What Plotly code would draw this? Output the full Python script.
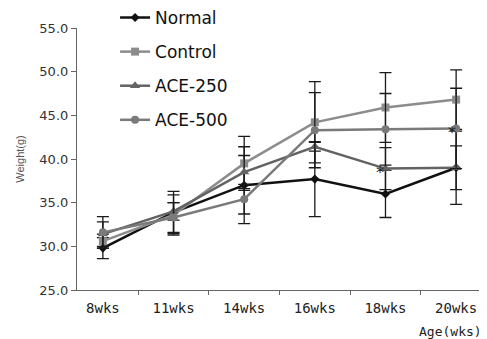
import plotly.graph_objects as go

weeks = ["8wks", "11wks", "14wks", "16wks", "18wks", "20wks"]

normal = [29.8, 33.9, 37.0, 37.7, 36.0, 39.0]
normal_sd = [1.2, 2.4, 4.4, 4.3, 2.7, 2.5]
control = [30.6, 33.6, 39.5, 44.2, 45.9, 46.8]
control_sd = [0.8, 2.3, 3.1, 4.65, 4.0, 3.4]
ace250 = [31.4, 34.0, 38.5, 41.4, 38.9, 39.0]
ace250_sd = [1.4, 1.0, 1.9, 0.5, 2.4, 4.2]
ace500 = [31.6, 33.3, 35.4, 43.3, 43.4, 43.5]
ace500_sd = [1.8, 1.7, 1.7, 4.3, 4.1, 4.6]

y_ticks = [25, 30, 35, 40, 45, 50, 55]

series = [
    ("Normal", normal, normal_sd, "#111111", "diamond", 7),
    ("Control", control, control_sd, "#8c8c8c", "square", 8),
    ("ACE-250", ace250, ace250_sd, "#636363", "triangle-up", 9),
    ("ACE-500", ace500, ace500_sd, "#7a7a7a", "circle", 8),
]

fig = go.Figure()
for i, (name, vals, sd, col, sym, ms) in enumerate(series):
    fig.add_trace(go.Scatter(
        x=weeks, y=vals, name=name, mode="lines+markers",
        legendgroup=f"g{i}",
        line=dict(color=col, width=2.5),
        marker=dict(symbol=sym, size=ms, color=col),
        error_y=dict(type="data", array=sd, visible=True,
                     color="#1a1a1a", thickness=1.3, width=6),
    ))

# significance asterisks
fig.add_annotation(x=weeks[4], y=ace250[4], text="*", showarrow=False,
                   xshift=-5, yshift=-4, font=dict(size=16, color="#222", family="DejaVu Sans"))
fig.add_annotation(x=weeks[5], y=ace500[5], text="*", showarrow=False,
                   xshift=-4, yshift=-4, font=dict(size=16, color="#222", family="DejaVu Sans"))

fig.add_annotation(xref="paper", yref="paper", x=1.005, y=-0.16,
                   xanchor="right", yanchor="middle", text="Age(wks)", showarrow=False,
                   font=dict(family="DejaVu Sans Mono", size=13, color="#222"))

fig.update_layout(
    width=479, height=331,
    margin=dict(l=69, r=5, t=20, b=49, autoexpand=False),
    paper_bgcolor="white", plot_bgcolor="white",
    showlegend=True,
    legend=dict(x=0.094, y=1.107, xanchor="left", yanchor="top",
                bgcolor="rgba(0,0,0,0)", tracegroupgap=9,
                font=dict(family="DejaVu Sans", size=17, color="#111")),
    xaxis=dict(type="category", showline=True, linecolor="#666", linewidth=1.2,
               ticks="outside", tickson="boundaries", ticklen=4, tickcolor="#666",
               showgrid=False, zeroline=False, ticklabelstandoff=5,
               tickfont=dict(family="DejaVu Sans Mono", size=14, color="#222")),
    yaxis=dict(range=[25, 55], tickvals=y_ticks, tickformat=".1f", ticksuffix="\u2002",
               showline=True, linecolor="#666", linewidth=1.2,
               ticks="outside", ticklen=5, tickcolor="#666",
               showgrid=False, zeroline=False,
               tickfont=dict(family="DejaVu Sans", size=13, color="#333"),
               title=dict(text="Weight(g)", standoff=12,
                          font=dict(family="Liberation Sans", size=11, color="#555"))),
)

fig.write_html("out.html")
